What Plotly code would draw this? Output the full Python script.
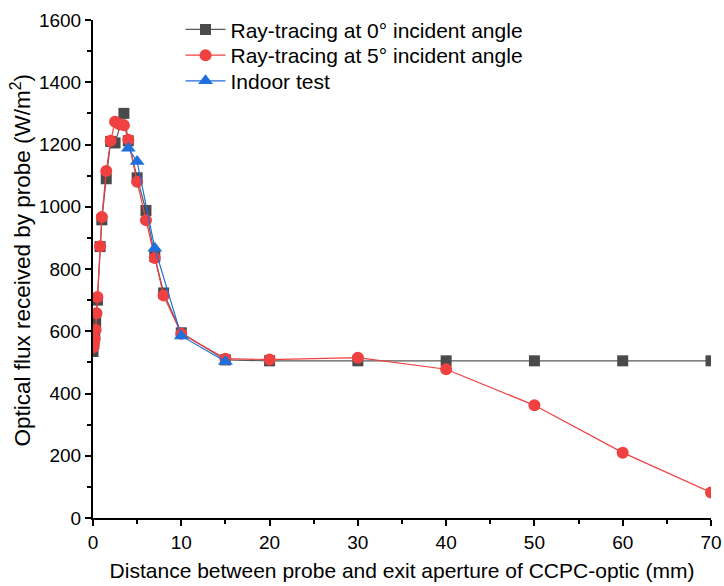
import plotly.graph_objects as go

# Distance between probe and exit aperture (mm) and optical flux (W/m2)
dist_0deg = [0, 0.1, 0.2, 0.3, 0.5, 0.8, 1.0, 1.5, 2.0, 2.5, 3.5, 4, 5, 6, 7, 8, 10, 15, 20, 30, 40, 50, 60, 70]
flux_0deg = [535, 560, 595, 630, 700, 872, 958, 1090, 1210, 1205, 1300, 1212, 1093, 988, 840, 723, 595, 508, 505, 505, 505, 505, 505, 505]

dist_5deg = [0, 0.1, 0.2, 0.3, 0.4, 0.5, 0.8, 1.0, 1.5, 2.0, 2.5, 3.0, 3.5, 4, 5, 6, 7, 8, 10, 15, 20, 30, 40, 50, 60, 70]
flux_5deg = [548, 560, 575, 605, 658, 710, 873, 967, 1115, 1212, 1273, 1265, 1262, 1215, 1080, 957, 835, 715, 592, 512, 509, 515, 478, 362, 210, 82]

dist_test = [4, 5, 7, 10, 15]
flux_test = [1188, 1145, 867, 585, 503]

x_ticks = [0, 10, 20, 30, 40, 50, 60, 70]
y_ticks = [0, 200, 400, 600, 800, 1000, 1200, 1400, 1600]

FONT = "Liberation Sans, Arial, sans-serif"

fig = go.Figure()
fig.add_trace(go.Scatter(
    x=dist_0deg, y=flux_0deg, mode="lines+markers",
    name="Ray-tracing at 0\u00b0 incident angle", legend="legend",
    line=dict(color="#5a5a5a", width=1.2),
    marker=dict(symbol="square", size=11, color="#4a4a4a"),
))
fig.add_trace(go.Scatter(
    x=dist_5deg, y=flux_5deg, mode="lines+markers",
    name="Ray-tracing at 5\u00b0 incident angle", legend="legend2",
    line=dict(color="#f04040", width=1.2),
    marker=dict(symbol="circle", size=12, color="#f04040"),
))
fig.add_trace(go.Scatter(
    x=dist_test, y=flux_test, mode="lines+markers",
    name="Indoor test", legend="legend3",
    line=dict(color="#1f6fdc", width=1.2),
    marker=dict(symbol="triangle-up", size=13, color="#1f6fdc"),
))

axis_common = dict(
    showline=True, linecolor="black", linewidth=2,
    ticks="outside", ticklen=6, tickwidth=1.5, tickcolor="black",
    showgrid=False, zeroline=False, mirror=False, automargin=False,
    tickfont=dict(family=FONT, size=19, color="black"),
)

fig.update_xaxes(
    range=[0, 70], tickvals=x_ticks,
    title=dict(text="Distance between probe and exit aperture of CCPC-optic (mm)",
               font=dict(family=FONT, size=21, color="black"), standoff=12),
    minor=dict(ticks="outside", ticklen=4, tickwidth=1.5, tickcolor="black", dtick=5, tick0=0),
    **axis_common,
)
fig.update_yaxes(
    range=[0, 1600], tickvals=y_ticks,
    minor=dict(ticks="outside", ticklen=4, tickwidth=1.5, tickcolor="black", dtick=100, tick0=0),
    **axis_common,
)

# y-axis title, placed as a rotated annotation
fig.add_annotation(
    text="Optical flux received by probe (W/m<sup>2</sup>)",
    xref="paper", yref="paper", x=-0.118, y=0.517,
    xanchor="center", yanchor="middle", textangle=-90, showarrow=False,
    font=dict(family=FONT, size=22.5, color="black"),
)

# one single-entry legend per series, stacked near the top left
legend_common = dict(
    x=0.1416, xanchor="left", yanchor="top", yref="container",
    bgcolor="rgba(0,0,0,0)", borderwidth=0,
    font=dict(family=FONT, size=21, color="black"),
    itemwidth=40,
)

fig.update_layout(
    width=724, height=586,
    margin=dict(l=93, r=13, t=20, b=68, autoexpand=False),
    paper_bgcolor="white", plot_bgcolor="white",
    font=dict(family=FONT, color="black"),
    legend=dict(y=0.9841, **legend_common),
    legend2=dict(y=0.9403, **legend_common),
    legend3=dict(y=0.8964, **legend_common),
    showlegend=True,
)

fig.write_html("out.html")
